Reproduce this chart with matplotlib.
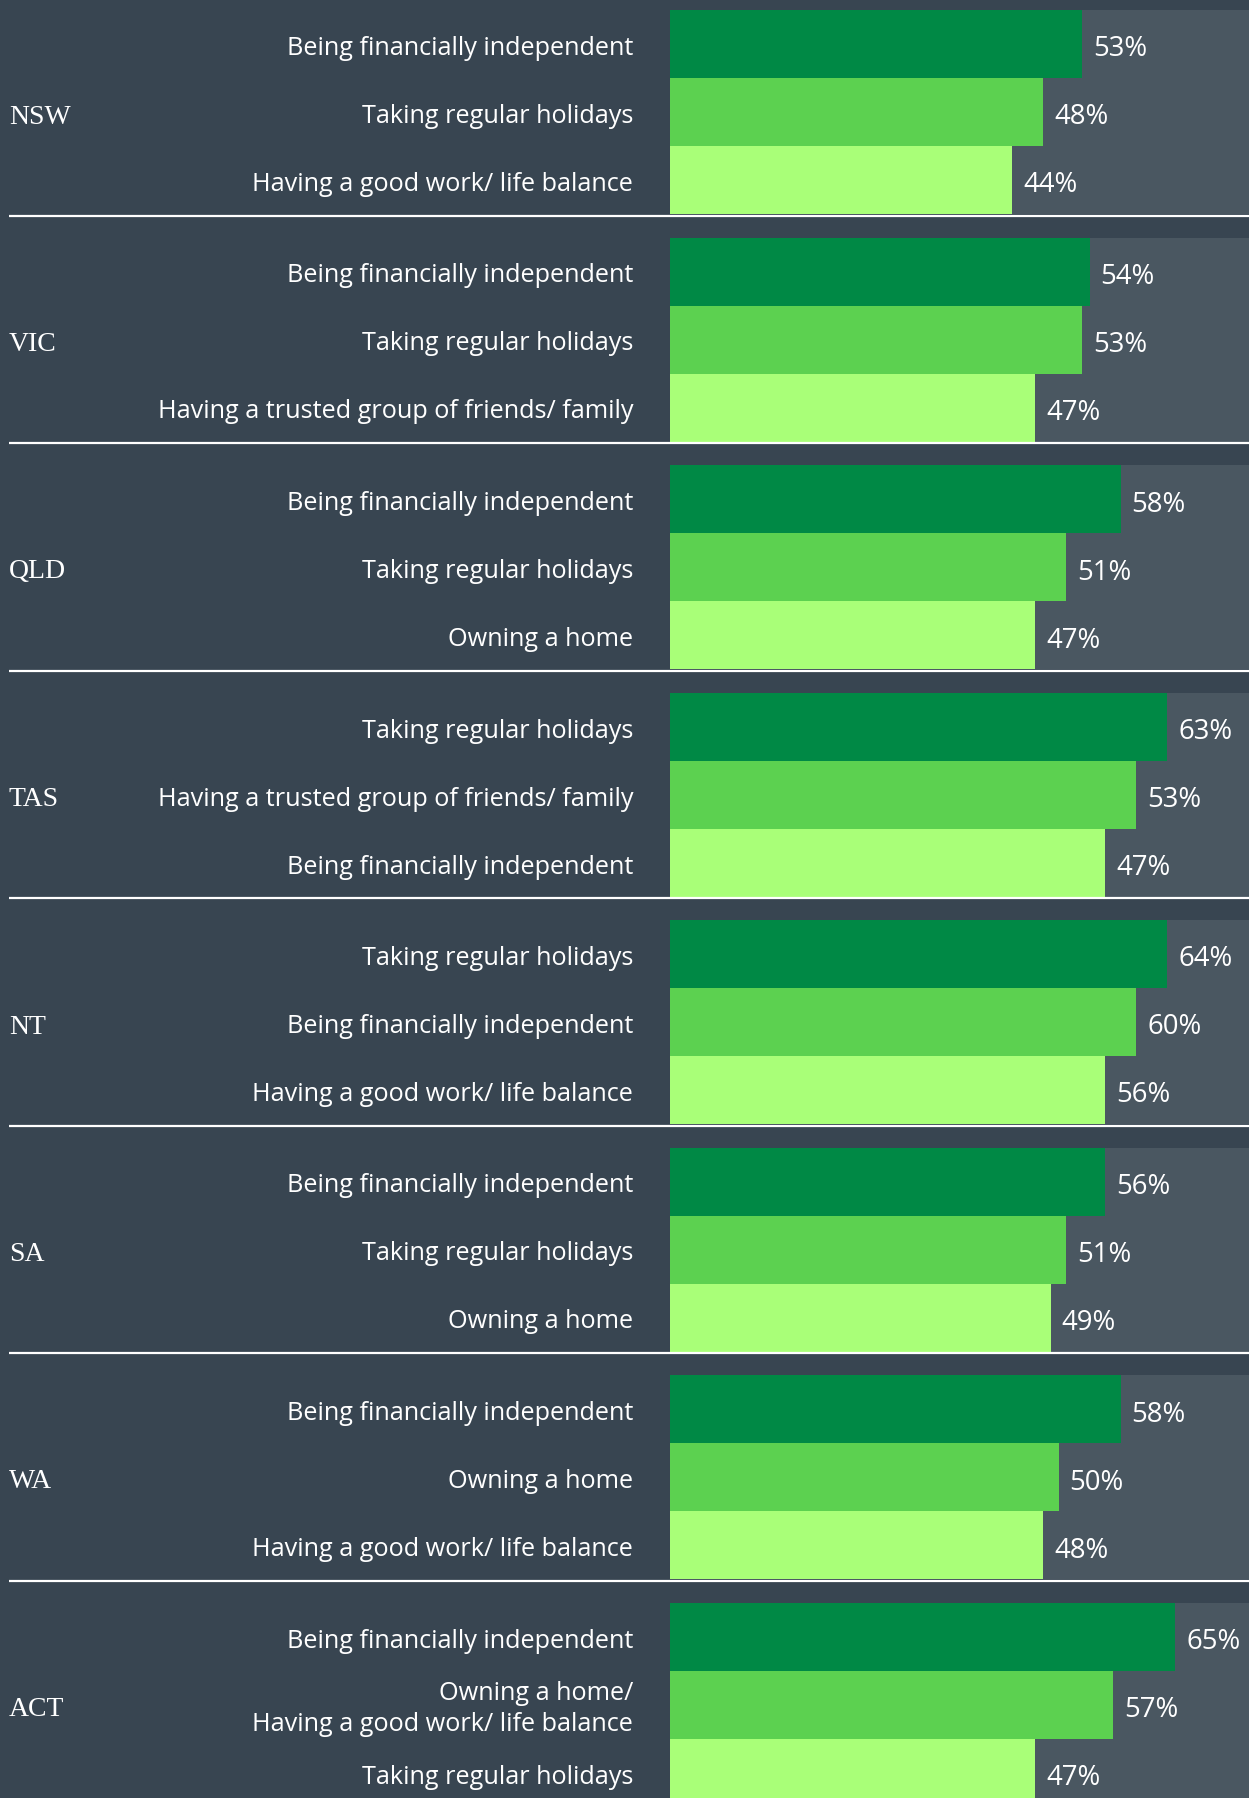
import matplotlib
matplotlib.use("Agg")
import matplotlib.pyplot as plt

# ---------------- data ----------------
states = ["NSW", "VIC", "QLD", "TAS", "NT", "SA", "WA", "ACT"]
items = [
    ["Being financially independent", "Taking regular holidays", "Having a good work/ life balance"],
    ["Being financially independent", "Taking regular holidays", "Having a trusted group of friends/ family"],
    ["Being financially independent", "Taking regular holidays", "Owning a home"],
    ["Taking regular holidays", "Having a trusted group of friends/ family", "Being financially independent"],
    ["Taking regular holidays", "Being financially independent", "Having a good work/ life balance"],
    ["Being financially independent", "Taking regular holidays", "Owning a home"],
    ["Being financially independent", "Owning a home", "Having a good work/ life balance"],
    ["Being financially independent", "Owning a home/\nHaving a good work/ life balance", "Taking regular holidays"],
]
# bar lengths as drawn (%)
values = [
    [53, 48, 44],
    [54, 53, 47],
    [58, 51, 47],
    [64, 60, 56],
    [64, 60, 56],
    [56, 51, 49],
    [58, 50, 48],
    [65, 57, 47],
]
# value labels as printed
value_labels = [
    ["53%", "48%", "44%"],
    ["54%", "53%", "47%"],
    ["58%", "51%", "47%"],
    ["63%", "53%", "47%"],
    ["64%", "60%", "56%"],
    ["56%", "51%", "49%"],
    ["58%", "50%", "48%"],
    ["65%", "57%", "47%"],
]

# ---------------- style ----------------
BG = "#384551"
PANEL = "#4a5761"
BAR_COLORS = ["#008945", "#5cd150", "#a9ff78"]
W, H = 1249, 1798
PX_PER_PCT = 7.77
BAR_X0 = 670          # px where zero is
TOP = 10              # px of first bar top
ROW = 68              # px bar height
PITCH = 227.5         # px group pitch
LABEL_RIGHT = 633     # px right edge of item labels

fig = plt.figure(figsize=(W / 100, H / 100), dpi=100, facecolor=BG)
ax = fig.add_axes([0, 0, 1, 1])
ax.set_facecolor(BG)
ax.set_xlim(-BAR_X0 / PX_PER_PCT, (W - BAR_X0) / PX_PER_PCT)
ax.set_ylim(H, 0)
ax.axis("off")

xmax = (W - BAR_X0) / PX_PER_PCT
px = 1 / PX_PER_PCT

for g, state in enumerate(states):
    gtop = TOP + g * PITCH
    # grey panel behind the three bars
    ax.barh(gtop + 1.5 * ROW, xmax, height=3 * ROW, left=0, color=PANEL, linewidth=0)
    for i in range(3):
        yc = gtop + (i + 0.5) * ROW
        ax.barh(yc, values[g][i], height=ROW, left=0, color=BAR_COLORS[i], linewidth=0)
        ax.text(values[g][i] + 11 * px, yc + 12.5, value_labels[g][i], color="white",
                fontsize=19.8, family="Open Sans", ha="left", va="baseline")
        ax.text((LABEL_RIGHT - BAR_X0) * px, yc + 4.5, items[g][i], color="white",
                fontsize=18.2, family="Open Sans", ha="right", va="center",
                linespacing=1.3)
    ax.text(-BAR_X0 * px + 9 * px, gtop + 1.5 * ROW + 5, state, color="white",
            fontsize=20, family="Liberation Serif", ha="left", va="center")
    ax.hlines(gtop + 3 * ROW + 1.5, -BAR_X0 * px + 9 * px, xmax, color="white", linewidth=1.6)

fig.savefig("out.png", dpi=100, facecolor=BG)
